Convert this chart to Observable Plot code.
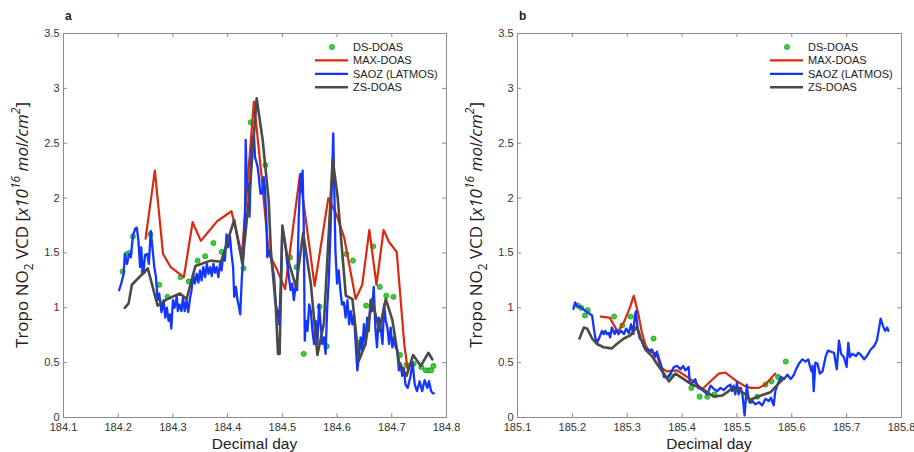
<!DOCTYPE html>
<html><head><meta charset="utf-8">
<script src="https://cdn.jsdelivr.net/npm/d3@7"></script>
<script src="https://cdn.jsdelivr.net/npm/@observablehq/plot@0.6"></script>
<style>
body{margin:0;background:#fff;}
#wrap{display:flex;width:914px;height:452px;overflow:hidden;}
svg{font-family:"Liberation Sans",Arial,sans-serif;}
</style></head><body><div id="wrap"></div>
<script>
const seriesNames = ["DS-DOAS","MAX-DOAS","SAOZ (LATMOS)","ZS-DOAS"];
const seriesColors = ["#35d435","#d92a10","#1236ff","#4a4a4a"];
const panelLetters = ["a","b"];
const xTicksA = [184.1,184.2,184.3,184.4,184.5,184.6,184.7,184.8];
const xTicksB = [185.1,185.2,185.3,185.4,185.5,185.6,185.7,185.8];
const yTicks = [0,0.5,1,1.5,2,2.5,3,3.5];
const xTitle = "Decimal day";

const dsA = [[184.208,1.33],[184.216,1.49],[184.221,1.50],[184.227,1.65],[184.246,1.33],[184.259,1.67],[184.275,1.21],[184.290,1.10],[184.314,1.28],[184.329,1.24],[184.345,1.43],[184.359,1.47],[184.374,1.59],[184.389,1.51],[184.429,1.36],[184.442,2.69],[184.469,2.30],[184.514,1.46],[184.526,1.37],[184.539,0.58],[184.568,1.01],[184.581,0.65],[184.617,1.49],[184.629,1.43],[184.640,0.68],[184.653,1.02],[184.666,1.56],[184.678,1.19],[184.690,1.11],[184.703,1.10],[184.715,0.57],[184.727,0.48],[184.740,0.49],[184.754,0.46],[184.762,0.43],[184.768,0.43],[184.772,0.43],[184.776,0.47]];

const maxA = [[184.250,1.63],[184.267,2.25],[184.282,1.49],[184.296,1.37],[184.320,1.28],[184.336,1.78],[184.351,1.61],[184.366,1.70],[184.381,1.79],[184.407,1.88],[184.426,1.48],[184.448,2.88],[184.462,2.2],[184.475,1.50],[184.490,1.35],[184.505,1.17],[184.532,2.21],[184.559,1.20],[184.584,2.00],[184.598,1.86],[184.613,1.64],[184.634,1.08],[184.646,1.21],[184.659,1.71],[184.672,1.21],[184.685,1.71],[184.695,1.60],[184.709,1.51],[184.723,0.66],[184.729,0.44]];

const saozA = [[184.2016,1.16],[184.206,1.23],[184.210,1.31],[184.212,1.49],[184.216,1.40],[184.220,1.49],[184.223,1.46],[184.227,1.66],[184.231,1.72],[184.234,1.73],[184.237,1.61],[184.240,1.37],[184.242,1.55],[184.245,1.31],[184.247,1.37],[184.249,1.48],[184.253,1.49],[184.256,1.40],[184.2595,1.70],[184.2625,1.55],[184.266,1.37],[184.269,1.28],[184.272,1.07],[184.275,1.13],[184.279,0.96],[184.283,1.07],[184.286,0.91],[184.289,1.00],[184.292,0.88],[184.295,0.94],[184.297,0.81],[184.300,1.07],[184.303,1.00],[184.307,1.10],[184.309,0.97],[184.312,1.03],[184.3155,0.97],[184.3185,1.10],[184.3215,0.97],[184.325,1.07],[184.328,0.96],[184.331,1.08],[184.334,1.16],[184.337,1.31],[184.340,1.22],[184.3435,1.31],[184.3465,1.23],[184.3495,1.34],[184.3525,1.25],[184.3555,1.37],[184.359,1.28],[184.362,1.40],[184.365,1.31],[184.368,1.37],[184.371,1.29],[184.374,1.40],[184.377,1.32],[184.380,1.37],[184.383,1.28],[184.386,1.40],[184.389,1.34],[184.392,1.49],[184.395,1.43],[184.398,1.67],[184.401,1.55],[184.404,1.67],[184.407,1.49],[184.410,1.37],[184.412,1.10],[184.415,1.19],[184.418,1.07],[184.421,1.00],[184.423,0.94],[184.426,1.28],[184.428,1.40],[184.432,1.92],[184.433,2.53],[184.435,2.16],[184.438,2.10],[184.440,1.83],[184.443,2.37],[184.445,2.50],[184.448,2.59],[184.450,2.37],[184.452,2.34],[184.455,2.28],[184.457,2.19],[184.460,2.04],[184.463,2.04],[184.466,2.19],[184.468,2.10],[184.471,1.77],[184.4725,1.46],[184.4755,1.52],[184.479,1.46],[184.482,1.37],[184.485,1.28],[184.488,1.03],[184.491,0.97],[184.494,0.85],[184.497,1.20],[184.500,1.73],[184.503,1.64],[184.506,1.55],[184.509,1.40],[184.512,1.28],[184.515,1.16],[184.518,1.22],[184.521,1.07],[184.524,1.19],[184.527,1.16],[184.530,1.83],[184.533,2.22],[184.535,2.06],[184.537,2.25],[184.539,1.77],[184.541,0.70],[184.5425,0.85],[184.544,0.88],[184.546,0.79],[184.549,1.03],[184.552,0.97],[184.555,0.79],[184.558,0.67],[184.561,0.88],[184.564,0.67],[184.567,1.03],[184.570,0.85],[184.573,0.67],[184.576,0.73],[184.579,0.58],[184.582,1.00],[184.585,1.28],[184.588,1.70],[184.591,2.22],[184.593,2.59],[184.595,2.06],[184.597,1.52],[184.600,1.22],[184.603,1.34],[184.606,1.16],[184.609,1.03],[184.6125,1.05],[184.6155,0.91],[184.619,1.07],[184.622,0.85],[184.625,0.97],[184.628,0.85],[184.631,0.94],[184.634,0.67],[184.637,0.43],[184.640,0.55],[184.643,0.73],[184.646,0.61],[184.649,0.85],[184.652,0.67],[184.655,0.91],[184.658,0.79],[184.661,1.07],[184.664,0.97],[184.667,1.19],[184.670,0.82],[184.673,0.64],[184.676,0.91],[184.679,0.85],[184.683,0.67],[184.686,1.03],[184.689,0.88],[184.692,0.82],[184.695,0.67],[184.698,0.82],[184.701,0.64],[184.704,0.73],[184.707,0.64],[184.710,0.61],[184.713,0.43],[184.716,0.49],[184.719,0.38],[184.722,0.45],[184.725,0.30],[184.729,0.27],[184.734,0.37],[184.738,0.50],[184.742,0.30],[184.746,0.24],[184.751,0.33],[184.7555,0.24],[184.760,0.34],[184.765,0.27],[184.768,0.33],[184.772,0.24],[184.775,0.22],[184.777,0.22]];

const zsA = [[184.212,1.00],[184.219,1.04],[184.225,1.21],[184.254,1.36],[184.272,1.02],[184.290,1.08],[184.313,1.13],[184.325,1.08],[184.341,1.38],[184.369,1.43],[184.388,1.42],[184.412,1.80],[184.427,1.40],[184.440,2.05],[184.453,2.91],[184.464,2.53],[184.475,1.98],[184.479,1.52],[184.488,1.01],[184.492,0.58],[184.495,0.58],[184.500,1.75],[184.509,1.46],[184.525,1.19],[184.538,1.68],[184.552,1.22],[184.564,0.57],[184.576,0.86],[184.592,2.35],[184.601,2.01],[184.616,1.11],[184.628,1.08],[184.640,0.52],[184.652,0.67],[184.664,1.08],[184.677,0.79],[184.689,1.08],[184.701,0.89],[184.713,0.51],[184.727,0.38],[184.739,0.57],[184.753,0.47],[184.767,0.59],[184.774,0.53]];

const dsB = [[185.210,1.02],[185.216,1.00],[185.223,0.93],[185.228,0.98],[185.276,0.92],[185.291,0.84],[185.306,0.92],[185.348,0.72],[185.379,0.38],[185.417,0.27],[185.432,0.19],[185.446,0.19],[185.459,0.21],[185.525,0.15],[185.537,0.19],[185.552,0.30],[185.563,0.33],[185.575,0.37],[185.589,0.51]];

const maxB = [[185.252,0.92],[185.268,0.91],[185.283,0.78],[185.294,0.87],[185.304,0.99],[185.312,1.11],[185.320,0.95],[185.327,0.77],[185.334,0.65],[185.342,0.60],[185.354,0.58],[185.360,0.46],[185.372,0.42],[185.391,0.43],[185.409,0.37],[185.421,0.33],[185.437,0.26],[185.452,0.33],[185.467,0.40],[185.479,0.41],[185.500,0.33],[185.513,0.29],[185.525,0.27],[185.540,0.27],[185.552,0.30],[185.564,0.37],[185.570,0.40]];

const saozB = [[185.202,0.99],[185.205,1.05],[185.208,1.02],[185.211,1.01],[185.217,1.00],[185.224,0.97],[185.230,0.95],[185.236,0.93],[185.239,0.82],[185.242,0.72],[185.246,0.69],[185.251,0.75],[185.254,0.79],[185.257,0.76],[185.260,0.79],[185.263,0.76],[185.266,0.77],[185.269,0.73],[185.272,0.82],[185.277,0.76],[185.280,0.80],[185.284,0.76],[185.289,0.79],[185.294,0.76],[185.298,0.81],[185.303,0.77],[185.307,0.85],[185.311,0.76],[185.314,0.93],[185.316,0.97],[185.319,0.80],[185.323,0.72],[185.327,0.70],[185.330,0.65],[185.336,0.62],[185.339,0.61],[185.345,0.62],[185.351,0.55],[185.354,0.60],[185.359,0.52],[185.364,0.44],[185.367,0.37],[185.373,0.36],[185.379,0.40],[185.385,0.46],[185.391,0.47],[185.397,0.44],[185.402,0.47],[185.406,0.43],[185.412,0.46],[185.414,0.32],[185.418,0.31],[185.424,0.35],[185.429,0.27],[185.434,0.26],[185.440,0.24],[185.446,0.21],[185.452,0.29],[185.458,0.26],[185.464,0.24],[185.470,0.27],[185.476,0.25],[185.482,0.28],[185.488,0.30],[185.491,0.24],[185.494,0.29],[185.497,0.21],[185.500,0.32],[185.503,0.21],[185.507,0.27],[185.510,0.21],[185.514,0.02],[185.518,0.30],[185.520,0.21],[185.524,0.14],[185.528,0.15],[185.534,0.12],[185.540,0.14],[185.546,0.11],[185.552,0.17],[185.558,0.15],[185.562,0.18],[185.567,0.11],[185.570,0.24],[185.574,0.30],[185.580,0.37],[185.586,0.35],[185.592,0.39],[185.598,0.35],[185.604,0.39],[185.607,0.43],[185.613,0.49],[185.619,0.53],[185.625,0.51],[185.630,0.53],[185.633,0.47],[185.636,0.42],[185.638,0.47],[185.640,0.24],[185.643,0.50],[185.647,0.49],[185.651,0.40],[185.656,0.42],[185.662,0.56],[185.666,0.61],[185.671,0.60],[185.677,0.59],[185.682,0.44],[185.686,0.70],[185.690,0.58],[185.695,0.55],[185.700,0.46],[185.703,0.68],[185.706,0.55],[185.710,0.58],[185.717,0.56],[185.721,0.59],[185.726,0.57],[185.732,0.53],[185.738,0.57],[185.744,0.62],[185.750,0.65],[185.755,0.70],[185.759,0.81],[185.762,0.90],[185.766,0.84],[185.770,0.79],[185.774,0.82],[185.776,0.79]];

const zsB = [[185.213,0.72],[185.221,0.82],[185.227,0.81],[185.236,0.72],[185.245,0.67],[185.257,0.64],[185.272,0.63],[185.281,0.67],[185.294,0.72],[185.306,0.75],[185.318,0.83],[185.324,0.73],[185.333,0.62],[185.345,0.56],[185.354,0.49],[185.367,0.40],[185.376,0.33],[185.388,0.40],[185.403,0.35],[185.418,0.30],[185.434,0.27],[185.446,0.23],[185.458,0.19],[185.473,0.20],[185.485,0.24],[185.491,0.27],[185.497,0.24],[185.503,0.27],[185.510,0.23],[185.516,0.21],[185.522,0.16],[185.534,0.18],[185.549,0.21],[185.561,0.23],[185.574,0.30],[185.586,0.36]];

function panel({letter, width, ml, mr, xTicks, ds, max, saoz, zs}) {
  const H = 452, mt = 33, mb = 35;
  const innerW = width - ml - mr, innerH = H - mt - mb;
  const rows = arr => arr.map(([d, v]) => ({d, v}));
  const axisGray = "#8c8c8c";
  const plot = Plot.plot({
    width, height: H, marginLeft: ml, marginRight: mr, marginTop: mt, marginBottom: mb,
    x: {domain: [xTicks[0], xTicks[xTicks.length - 1]]},
    y: {domain: [yTicks[0], yTicks[yTicks.length - 1]]},
    style: {fontSize: "11px", color: "#333", background: "#fff", fontFamily: "'Liberation Sans', Arial, sans-serif"},
    marks: [
      Plot.dot(rows(ds), {x: "d", y: "v", r: 2.6, fill: seriesColors[0], stroke: "#1e7d1e", strokeWidth: 0.6}),
      Plot.line(rows(max), {x: "d", y: "v", stroke: seriesColors[1], strokeWidth: 2.2}),
      Plot.line(rows(saoz), {x: "d", y: "v", stroke: seriesColors[2], strokeWidth: 2.3}),
      Plot.line(rows(zs), {x: "d", y: "v", stroke: seriesColors[3], strokeWidth: 2.6}),
      Plot.frame({stroke: axisGray}),
      Plot.tickX(xTicks, {x: d => d, insetTop: innerH - 4, stroke: axisGray}),
      Plot.tickX(xTicks, {x: d => d, insetBottom: innerH - 4, stroke: axisGray}),
      Plot.tickY(yTicks, {y: d => d, insetRight: innerW - 4, stroke: axisGray}),
      Plot.tickY(yTicks, {y: d => d, insetLeft: innerW - 4, stroke: axisGray}),
      Plot.axisX({ticks: xTicks, tickSize: 0, tickPadding: 6, tickFormat: d => d.toFixed(1), label: null}),
      Plot.axisY({ticks: yTicks, tickSize: 0, tickPadding: 4, tickFormat: d => String(d), label: null})
    ]
  });
  const svg = d3.select(plot);
  svg.append("text").attr("x", ml + 2).attr("y", 20).attr("font-size", 12).attr("font-weight", "bold")
    .attr("text-anchor", "start").attr("fill", "#222").text(letter);
  svg.append("text").attr("x", ml + innerW / 2).attr("y", 448.5).attr("text-anchor", "middle")
    .attr("font-size", 15.5).attr("fill", "#222").text(xTitle);
  const yt = svg.append("text").attr("transform", `translate(${ml - 35},${mt + innerH / 2}) rotate(-90)`)
    .attr("text-anchor", "middle").attr("font-size", 17).attr("fill", "#222")
    .attr("font-family", "'Open Sans', Arial, sans-serif");
  yt.append("tspan").text("Tropo NO");
  yt.append("tspan").attr("font-size", 12).attr("dy", 5).text("2");
  yt.append("tspan").attr("dy", -5).text(" VCD [");
  yt.append("tspan").attr("font-style", "italic").text("x10");
  yt.append("tspan").attr("font-style", "italic").attr("font-size", 12).attr("dy", -8).text("16");
  yt.append("tspan").attr("font-style", "italic").attr("dy", 8).text(" mol/cm");
  yt.append("tspan").attr("font-style", "italic").attr("font-size", 12).attr("dy", -8).text("2");
  yt.append("tspan").attr("dy", 8).text("]");
  const tx = ml + innerW - 93, y0 = 47, step = 13.4;
  const lg = svg.append("g").attr("font-size", 11).attr("fill", "#222").attr("text-anchor", "start");
  seriesNames.forEach((name, i) => {
    const y = y0 + i * step;
    if (i === 0) {
      lg.append("circle").attr("cx", tx - 21).attr("cy", y).attr("r", 2.6)
        .attr("fill", seriesColors[0]).attr("stroke", "#1e7d1e").attr("stroke-width", 0.6);
    } else {
      lg.append("line").attr("x1", tx - 38).attr("x2", tx - 5).attr("y1", y).attr("y2", y)
        .attr("stroke", seriesColors[i]).attr("stroke-width", i === 3 ? 2.6 : 2.2);
    }
    lg.append("text").attr("x", tx).attr("y", y).attr("dy", "0.35em").attr("text-anchor", "start").text(name);
  });
  return plot;
}

const wrap = document.getElementById("wrap");
wrap.appendChild(panel({letter: panelLetters[0], width: 460, ml: 63, mr: 14, xTicks: xTicksA, ds: dsA, max: maxA, saoz: saozA, zs: zsA}));
wrap.appendChild(panel({letter: panelLetters[1], width: 454, ml: 57, mr: 13, xTicks: xTicksB, ds: dsB, max: maxB, saoz: saozB, zs: zsB}));
</script></body></html>
